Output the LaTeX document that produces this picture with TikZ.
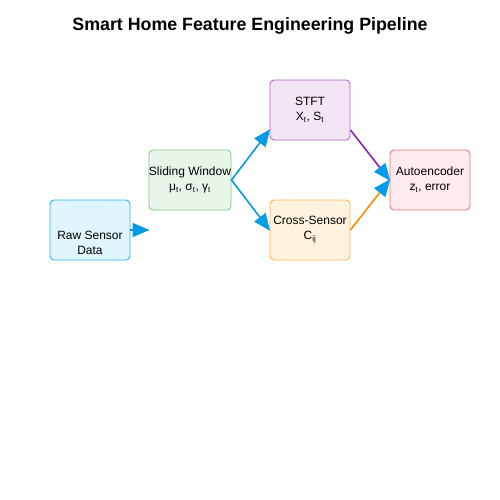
\documentclass[tikz,border=0pt]{standalone}
\usepackage{fontspec}
\setmainfont{Liberation Sans}
\usetikzlibrary{arrows.meta,calc}

\definecolor{arrowblue}{HTML}{039BE5}
\definecolor{rawfill}{HTML}{E1F5FE}
\definecolor{rawline}{HTML}{29B6F6}
\definecolor{winfill}{HTML}{E8F5E9}
\definecolor{winline}{HTML}{81C784}
\definecolor{stftfill}{HTML}{F3E5F5}
\definecolor{stftline}{HTML}{BA68C8}
\definecolor{crossfill}{HTML}{FFF3E0}
\definecolor{crossline}{HTML}{FFB74D}
\definecolor{autofill}{HTML}{FFEBEE}
\definecolor{autoline}{HTML}{E57373}
\definecolor{purpleline}{HTML}{8E24AA}
\definecolor{orangeline}{HTML}{FB8C00}

\tikzset{
	stage/.style={draw=#1line, fill=#1fill, rounded corners=4pt, line width=0.9pt,
		minimum width=80pt, minimum height=60pt, inner sep=0pt, align=center,
		font=\fontsize{12}{15}\selectfont},
	flow/.style={line width=1.6pt, draw=#1,
		-{Triangle[length=17pt, width=14pt, color=arrowblue]}, shorten >=-1pt},
}

\begin{document}
\begin{tikzpicture}[x=1pt, y=-1pt]

\useasboundingbox (0, 0) rectangle (500, 500);

\node[font=\fontsize{17.8}{21}\selectfont\bfseries] (title) at (250, 26) {Smart Home Feature Engineering Pipeline};

\node[stage=raw, label={[align=center, yshift=-13pt, font=\fontsize{12}{15}\selectfont]center:Raw Sensor\\Data}] (raw) at (90, 230) {};
\node[stage=win] (win) at (190, 180) {Sliding Window\\μ\textsubscript{t}, σ\textsubscript{t}, γ\textsubscript{t}};
\node[stage=stft] (stft) at (310, 110) {STFT\\X\textsubscript{t}, S\textsubscript{t}};
\node[stage=cross] (cross) at (310, 230) {Cross-Sensor\\C\textsubscript{ij}};
\node[stage=auto] (auto) at (430, 180) {Autoencoder\\z\textsubscript{t}, error};

\draw[flow=arrowblue] (raw.east) -- (raw.east -| win.west);
\draw[flow=arrowblue] (win.east) -- ($(stft.west)+(0, 20)$);
\draw[flow=arrowblue] (win.east) -- (cross.west);
\draw[flow=purpleline] ($(stft.east)+(0, 20)$) -- (auto.west);
\draw[flow=orangeline] (cross.east) -- (auto.west);

\end{tikzpicture}
\end{document}
